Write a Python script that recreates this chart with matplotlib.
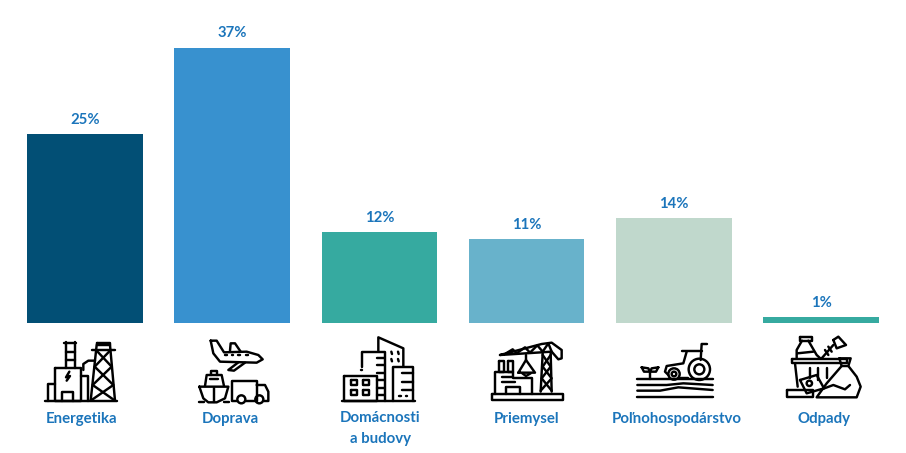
import matplotlib
matplotlib.use("Agg")
import matplotlib.pyplot as plt
from matplotlib.patches import Circle

plt.rcParams['font.family'] = ['Lato', 'DejaVu Sans']

categories = ["Energetika", "Doprava", "Domácnosti\na budovy", "Priemysel", "Poľnohospodárstvo", "Odpady"]
values = [25.2, 36.7, 12.1, 11.2, 14.0, 0.8]
value_labels = ["25%", "37%", "12%", "11%", "14%", "1%"]
colors = ["#024F75", "#3891CF", "#36AAA0", "#68B2CB", "#C0D8CC", "#36AAA0"]
text_color = "#1B75BB"
label_x = [81.5, 230, 380, 527, 677, 824]

fig = plt.figure(figsize=(9.06, 4.53), dpi=100)

# bars: baseline at pixel row 323
ax = fig.add_axes([0, 1 - 323 / 453, 1, 323 / 453])
ax.set_xlim(-85 / 147.2, (906 - 85) / 147.2)
ax.set_ylim(0, 323 / 7.5)
ax.axis("off")
xs = range(len(values))
ax.bar(xs, values, width=0.785, color=colors)
for x, v, s in zip(xs, values, value_labels):
    ax.annotate(s, (x, v), xytext=(0, 10.3), textcoords="offset points", ha="center", va="center",
                color=text_color, fontsize=10.7, fontweight="bold")

# overlay in pixel coordinates for the icons and the labels
ov = fig.add_axes([0, 0, 1, 1])
ov.set_xlim(0, 906)
ov.set_ylim(453, 0)
ov.axis("off")
ov.patch.set_alpha(0)

for x, s in zip(label_x, categories):
    for j, line in enumerate(s.split("\n")):
        ov.text(x, 418.5 + 20 * j, line, ha="center", va="center", color=text_color,
                fontsize=10.8, fontweight="bold")


def icon(x0, y0, lines, circles=()):
    for pts in lines:
        ov.plot([x0 + p[0] / 3 for p in pts], [y0 + p[1] / 3 for p in pts],
                color="black", lw=1.75, solid_capstyle="round", solid_joinstyle="round")
    for cx, cy, r in circles:
        ov.add_patch(Circle((x0 + cx / 3, y0 + cy / 3), r / 3, fill=False, ec="black", lw=1.75))


def rect(a, b, c, d):
    return [(a, b), (c, b), (c, d), (a, d), (a, b)]


# Energetika
icon(0, 320, [
    [(135, 242), (350, 242)],
    [(197, 65), (197, 145)], [(225, 65), (225, 145)],
    [(193, 68), (229, 68)], [(197, 95), (225, 95)], [(197, 120), (225, 120)],
    rect(165, 145, 243, 242),
    [(185, 242), (185, 215), (220, 215), (220, 242)],
    [(208, 155), (198, 172), (210, 168), (200, 182)],
    [(165, 192), (145, 192), (145, 242)],
    [(250, 150), (250, 132), (265, 122), (285, 122)],
    [(243, 168), (265, 168), (265, 242)],
    [(290, 75), (272, 242)], [(330, 75), (345, 242)],
    [(290, 68), (330, 68), (330, 75), (290, 75), (290, 68)],
    [(275, 90), (345, 90)],
    [(288, 90), (335, 140), (278, 195), (345, 242)],
    [(332, 90), (284, 140), (340, 195), (272, 242)],
])

# Doprava
icon(0, 320, [
    [(632, 62), (650, 62), (672, 97), (740, 95), (775, 105), (788, 118), (770, 128), (660, 125), (640, 100), (632, 62)],
    [(690, 92), (692, 70), (705, 70), (722, 95)],
    [(715, 127), (685, 150), (702, 152), (735, 128)],
    [(675, 106), (680, 106)], [(695, 106), (700, 106)], [(715, 106), (720, 106)], [(738, 106), (745, 106)],
    [(598, 200), (685, 200), (675, 235), (650, 247), (625, 247), (610, 235), (598, 200)],
    [(615, 198), (620, 165), (665, 165), (672, 198)],
    [(632, 165), (632, 152), (650, 152), (650, 165)],
    [(630, 178), (655, 178)], [(641, 205), (641, 247)],
    [(598, 247), (612, 247)], [(672, 247), (686, 247)],
    [(710, 243), (697, 243), (697, 182), (770, 182), (770, 243), (738, 243)],
    [(770, 195), (795, 195), (805, 215), (805, 243), (792, 243)],
], [(724, 238, 12), (778, 238, 12)])

# Domácnosti a budovy
icon(300, 320, [
    [(125, 242), (345, 242)],
    rect(133, 167, 232, 242),
    rect(152, 180, 170, 195), rect(190, 180, 208, 195), rect(152, 210, 170, 225), rect(190, 210, 208, 225),
    [(185, 140), (185, 95), (255, 95), (255, 242)],
    [(235, 95), (235, 52), (310, 85), (310, 140)],
    [(278, 242), (278, 140), (338, 140), (338, 242)],
    [(232, 115), (252, 115)], [(232, 135), (252, 135)], [(232, 160), (252, 160)],
    [(232, 180), (252, 180)], [(232, 205), (252, 205)], [(232, 225), (252, 225)],
    [(274, 95), (276, 102)], [(294, 95), (296, 102)], [(274, 117), (276, 124)], [(294, 117), (296, 124)],
    [(305, 160), (338, 160)], [(305, 185), (338, 185)], [(305, 210), (338, 210)],
    [(298, 228), (302, 228)], [(318, 228), (322, 228)], [(184, 150), (187, 150)],
])

# Priemysel
icon(300, 320, [
    rect(575, 222, 788, 240),
    [(585, 222), (585, 155), (640, 155), (640, 175), (695, 175), (695, 222)],
    rect(597, 122, 612, 155), rect(625, 122, 640, 155),
    [(618, 222), (618, 200), (660, 200), (660, 222)],
    [(605, 170), (635, 170)], [(605, 185), (645, 185)],
    [(728, 100), (722, 215)], [(752, 100), (755, 215)],
    [(728, 105), (752, 140), (725, 175), (755, 212)],
    [(752, 105), (728, 140), (755, 175), (722, 212)],
    [(600, 105), (725, 72), (755, 68), (785, 90), (785, 115), (775, 118), (755, 95), (600, 105)],
    [(618, 100), (638, 88), (650, 100), (675, 82), (690, 98), (712, 76), (728, 95), (745, 70), (755, 95)],
    [(678, 105), (678, 120)],
    [(655, 158), (678, 120), (705, 158), (655, 158)],
    [(667, 160), (678, 168), (692, 160)],
])

# Poľnohospodárstvo
icon(600, 290, [
    [(112, 268), (338, 268)],
    [(112, 285), (200, 285), (250, 280), (338, 285)],
    [(112, 302), (180, 302), (235, 292), (338, 300)],
    [(112, 320), (338, 320)],
    [(150, 268), (150, 242)],
    [(125, 232), (145, 235), (150, 245), (132, 245), (125, 232)],
    [(175, 232), (155, 235), (150, 245), (168, 245), (175, 232)],
    [(205, 255), (195, 245), (200, 228), (250, 220), (260, 185)],
    [(245, 182), (305, 182)],
    [(305, 162), (322, 162)], [(305, 162), (302, 210)],
    [(240, 265), (265, 265)],
], [(298, 238, 32), (298, 238, 15), (222, 252, 17), (222, 252, 7)])

# Odpady
icon(600, 290, [
    [(575, 208), (740, 208), (740, 220), (575, 220), (575, 208)],
    [(585, 220), (593, 290)],
    [(630, 235), (630, 265)], [(655, 235), (655, 270)], [(680, 235), (680, 265)],
    rect(600, 140, 636, 152),
    [(606, 152), (590, 180), (590, 206)], [(625, 152), (650, 195), (662, 206)],
    [(592, 190), (640, 185)],
    [(665, 205), (700, 165)], [(675, 180), (685, 195)], [(685, 170), (695, 185)],
    [(700, 150), (715, 140), (738, 165), (710, 175), (700, 150)],
    [(718, 205), (752, 205), (745, 228), (725, 228), (718, 205)],
    [(725, 228), (680, 280), (650, 322), (770, 322), (782, 290), (770, 260), (745, 228)],
    [(665, 298), (700, 285), (735, 298), (750, 285)],
    rect(562, 300, 640, 322),
    [(600, 270), (650, 255), (672, 295), (620, 310), (600, 270)],
], [(628, 280, 8)])

fig.savefig("out.png", dpi=100)
